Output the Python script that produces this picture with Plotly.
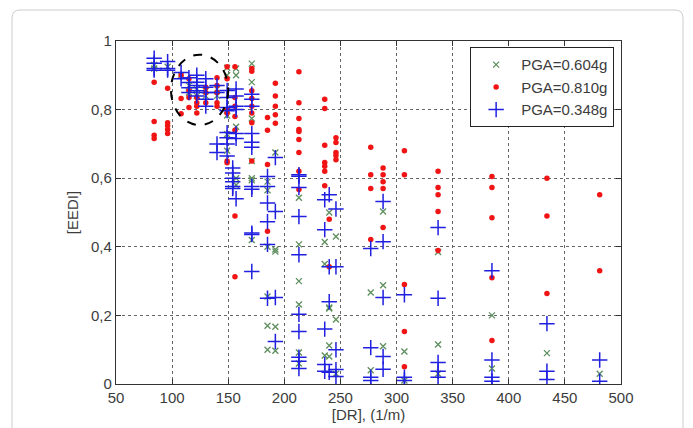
import plotly.graph_objects as go

# ---------------- data ----------------
green_x = [84, 84, 96, 108, 115, 115, 122, 122, 130, 130, 140, 140,
           149, 149, 149, 149, 149, 149,
           157, 157, 157, 157, 157,
           171, 171, 171, 171, 171, 171, 171,
           185, 185, 185, 185, 185, 185,
           192, 192, 192, 192, 192,
           213, 213, 213, 213, 213, 213,
           236, 236, 236,
           240, 240, 240, 240, 240,
           246, 246, 246,
           277, 277, 288, 288, 288, 307, 307,
           337, 337, 337, 385, 385, 434, 481]
green_y = [0.93, 0.92, 0.925, 0.9, 0.87, 0.85, 0.86, 0.84, 0.855, 0.84, 0.86, 0.84,
           0.922, 0.9, 0.797, 0.783, 0.728, 0.68,
           0.92, 0.9, 0.75, 0.6, 0.58,
           0.934, 0.88, 0.774, 0.65, 0.594, 0.6, 0.42,
           0.59, 0.565, 0.4, 0.255, 0.17, 0.1,
           0.675, 0.392, 0.386, 0.167, 0.097,
           0.543, 0.407, 0.3, 0.232, 0.092, 0.06,
           0.414, 0.083, 0.35,
           0.5, 0.223, 0.22, 0.112, 0.08,
           0.43, 0.188, 0.03,
           0.267, 0.04, 0.503, 0.288, 0.11, 0.095, 0.01,
           0.385, 0.115, 0.03, 0.2, 0.045, 0.09, 0.03]

red_x = [84, 84, 84, 84,
         96, 96, 96, 96, 96,
         108, 108, 108,
         115, 115, 115, 115,
         122, 122, 122, 122,
         130, 130, 130,
         140, 140, 140, 140, 140,
         149, 149, 149, 149, 149, 149,
         156, 156, 156, 156, 156, 156, 156,
         171, 171, 171, 171, 171, 171, 171, 171,
         185, 185, 185, 185,
         192, 192, 192, 192, 192,
         213, 213, 213, 213, 213, 213, 213, 213, 213,
         236, 236, 236, 236, 236, 236, 236,
         240, 240,
         246, 246, 246, 246, 246,
         277, 277, 277, 277,
         288, 288, 288, 288, 288,
         307, 307, 307, 307, 307,
         337, 337, 337, 337, 337,
         385, 385, 385, 385, 385,
         434, 434, 434,
         481, 481]
red_y = [0.88, 0.765, 0.725, 0.716,
         0.862, 0.762, 0.753, 0.742, 0.73,
         0.832, 0.788, 0.9,
         0.89, 0.855, 0.835, 0.806,
         0.835, 0.82, 0.81, 0.79,
         0.865, 0.85, 0.82,
         0.893, 0.87, 0.85, 0.82, 0.81,
         0.925, 0.89, 0.8, 0.79, 0.65, 0.645,
         0.925, 0.835, 0.81, 0.78, 0.74, 0.49, 0.313,
         0.92, 0.912, 0.855, 0.832, 0.81, 0.79, 0.762, 0.65,
         0.777, 0.74, 0.64, 0.445,
         0.877, 0.84, 0.81, 0.785, 0.76,
         0.91, 0.82, 0.774, 0.742, 0.736, 0.713, 0.675, 0.567, 0.62,
         0.83, 0.803, 0.696, 0.646, 0.635, 0.62, 0.578,
         0.48, 0.342,
         0.718, 0.704, 0.675, 0.666, 0.654,
         0.69, 0.61, 0.57, 0.421,
         0.63, 0.61, 0.59, 0.57, 0.456,
         0.68, 0.61, 0.29, 0.153, 0.05,
         0.62, 0.573, 0.552, 0.503, 0.389,
         0.605, 0.573, 0.485, 0.31, 0.127,
         0.6, 0.49, 0.264,
         0.552, 0.33]

blue_x = [84, 84, 84, 84,
          96, 96, 96,
          108, 108,
          115, 115, 115, 115,
          122, 122, 122, 122, 122,
          130, 130, 130, 130, 130,
          140, 140, 140, 140,
          149, 149, 149, 149, 149, 149, 149, 149,
          154, 154, 154, 154, 154, 154,
          157, 157, 157, 157, 157, 157, 157,
          171, 171, 171, 171, 171, 171, 171, 171, 171, 171, 171,
          185, 185, 185, 185, 185, 185,
          192, 192, 192, 192,
          213, 213, 213, 213, 213, 213, 213, 213, 213, 213,
          236, 236, 236, 236, 236,
          240, 240, 240, 240,
          246, 246, 246, 246, 246,
          277, 277, 277, 277,
          288, 288, 288, 288, 288,
          307, 307, 307,
          337, 337, 337, 337, 337,
          385, 385, 385, 385,
          434, 434, 434,
          481, 481]
blue_y = [0.95, 0.935, 0.92, 0.915,
          0.94, 0.92, 0.915,
          0.908, 0.89,
          0.893, 0.879, 0.864, 0.85,
          0.9, 0.88, 0.87, 0.855, 0.84,
          0.89, 0.865, 0.85, 0.83, 0.81,
          0.87, 0.85, 0.70, 0.675,
          0.856, 0.835, 0.806, 0.797, 0.733, 0.718, 0.70, 0.665,
          0.63, 0.615, 0.6, 0.59, 0.576, 0.57,
          0.86, 0.84, 0.81, 0.8, 0.73, 0.716, 0.54,
          0.845, 0.83, 0.81, 0.73, 0.705, 0.69, 0.576, 0.568, 0.44, 0.436, 0.328,
          0.605, 0.576, 0.528, 0.473, 0.407, 0.25,
          0.66, 0.503, 0.252, 0.124,
          0.61, 0.606, 0.573, 0.488, 0.377, 0.203, 0.153, 0.078, 0.066, 0.045,
          0.537, 0.45, 0.16, 0.057, 0.037,
          0.552, 0.342, 0.24, 0.034,
          0.51, 0.342, 0.1, 0.042, 0.022,
          0.395, 0.106, 0.02, 0.01,
          0.532, 0.415, 0.252, 0.08, 0.043,
          0.26, 0.02, 0.01,
          0.456, 0.25, 0.063, 0.037, 0.02,
          0.33, 0.07, 0.02, 0.008,
          0.176, 0.037, 0.013,
          0.07, 0.008]

series_names = ["PGA=0.604g", "PGA=0.810g", "PGA=0.348g"]
x_ticks = [50, 100, 150, 200, 250, 300, 350, 400, 450, 500]
y_ticks = [0, 0.2, 0.4, 0.6, 0.8, 1]
y_tick_labels = ["0", "0,2", "0,4", "0,6", "0,8", "1"]

# ---------------- figure ----------------
W, H = 693, 428
L, R, T, B = 116, 72, 41, 44
FONT = "Liberation Sans, Arial, sans-serif"
font_col = "#3c3c3c"

fig = go.Figure()
fig.add_trace(go.Scatter(
    x=green_x, y=green_y, mode="markers", name=series_names[0],
    marker=dict(symbol="x-thin", size=6, color="#5e8f5e",
                line=dict(width=1.3, color="#5e8f5e"))))
fig.add_trace(go.Scatter(
    x=red_x, y=red_y, mode="markers", name=series_names[1],
    marker=dict(symbol="circle", size=5.5, color="#f01414",
                line=dict(width=0))))
fig.add_trace(go.Scatter(
    x=blue_x, y=blue_y, mode="markers", name=series_names[2],
    marker=dict(symbol="cross-thin", size=11, color="#2020e0",
                line=dict(width=1.5, color="#2020e0"))))

axis_common = dict(showline=True, linecolor="#333333", linewidth=1.2,
                   mirror="ticks", ticks="inside", ticklen=5,
                   tickcolor="#333333", showgrid=True, gridcolor="#666666",
                   griddash="dot", gridwidth=1, zeroline=False,
                   tickfont=dict(family=FONT, size=15, color=font_col))

fig.update_xaxes(range=[50, 500], tickvals=x_ticks,
                 title=dict(text="[DR], (1/m)", standoff=4,
                            font=dict(family=FONT, size=15, color=font_col)),
                 **axis_common)
fig.update_yaxes(range=[0, 1], tickvals=y_ticks, ticktext=y_tick_labels,
                 title=dict(text="[EEDI]", standoff=8,
                            font=dict(family=FONT, size=15, color=font_col)),
                 **axis_common)

# dashed ellipse highlighting the cluster
fig.add_shape(type="circle", xref="x", yref="y", x0=99, x1=150, y0=0.755, y1=0.96,
              line=dict(color="black", width=2, dash="dash"))

# outer rounded frame (paper coords from pixel positions)
pw = W - L - R
ph = H - T - B
def px(xp):
    return (xp - L) / pw
def py(yp):
    return (H - B - yp) / ph
fx0, fx1, fy0, fy1, rr = 12, 683, 10, 445, 8
path = (f"M {px(fx0)},{py(fy1)} L {px(fx0)},{py(fy0 + rr)} "
        f"Q {px(fx0)},{py(fy0)} {px(fx0 + rr)},{py(fy0)} "
        f"L {px(fx1 - rr)},{py(fy0)} Q {px(fx1)},{py(fy0)} {px(fx1)},{py(fy0 + rr)} "
        f"L {px(fx1)},{py(fy1)}")
fig.add_shape(type="path", xref="paper", yref="paper", path=path,
              line=dict(color="#cccccc", width=1), layer="below")

fig.update_layout(
    width=W, height=H,
    margin=dict(l=L, r=R, t=T, b=B, autoexpand=False),
    paper_bgcolor="white", plot_bgcolor="white",
    showlegend=True,
    legend=dict(x=0.986, y=0.982, xanchor="right", yanchor="top",
                bgcolor="white", bordercolor="#222222", borderwidth=1.2,
                font=dict(family=FONT, size=15, color=font_col),
                itemwidth=40, tracegroupgap=0),
)

fig.write_html("out.html")
